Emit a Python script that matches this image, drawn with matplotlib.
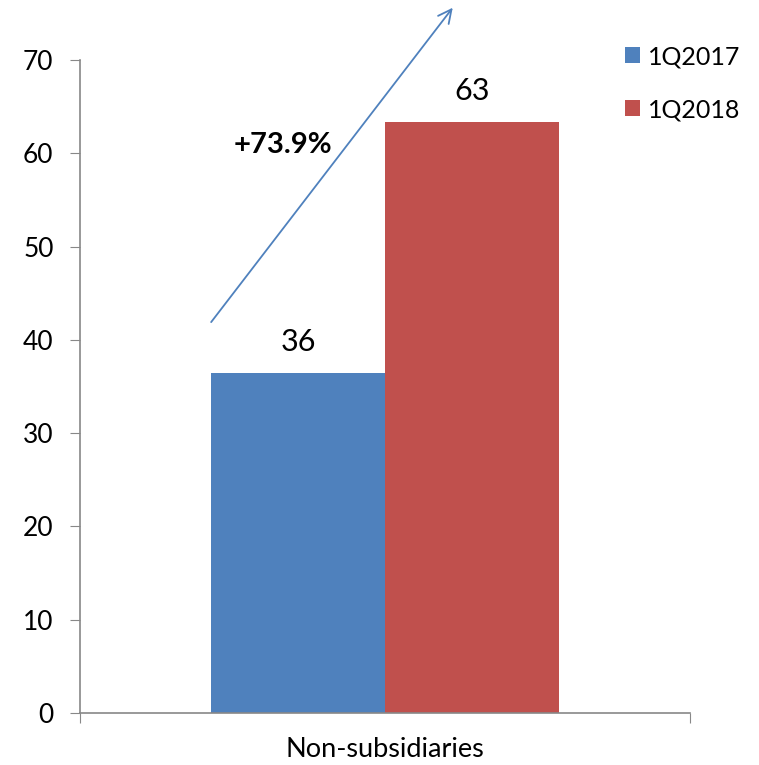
import matplotlib.pyplot as plt
import numpy as np

# Valori del grafico
category = 'Non-subsidiaries'
series = ['1Q2017', '1Q2018']
values = [36.4, 63.3]
colors = ['#4F81BD', '#C0504D']
growth_label = '+73.9%'
yticks = [0, 10, 20, 30, 40, 50, 60, 70]

plt.rcParams['font.family'] = ['Lato', 'DejaVu Sans']

fig = plt.figure(figsize=(7.59, 7.65), dpi=100)
ax = fig.add_axes([0.1054, 0.068, 0.8037, 0.8536])

bar_w = 0.285
offsets = [-bar_w / 2, bar_w / 2]
for off, val, col, name in zip(offsets, values, colors, series):
    ax.bar(off, val, width=bar_w, color=col, label=name)
    ax.text(off, val + 1.9, f'{val:.0f}', ha='center', va='bottom', fontsize=22)

ax.set_xlim(-0.5, 0.5)
ax.set_ylim(0, 70)
ax.set_yticks(yticks)
ax.tick_params(axis='y', labelsize=19, length=7, color='#888888', pad=12)

# asse categorie con tacche ai bordi
ax.set_xticks([-0.5, 0.5])
ax.set_xticklabels(['', ''])
ax.tick_params(axis='x', length=7, color='#888888')
ax.text(0, -2.6, category, ha='center', va='top', fontsize=19.5)

for s in ['top', 'right']:
    ax.spines[s].set_visible(False)
for s in ['left', 'bottom']:
    ax.spines[s].set_color('#888888')
    ax.spines[s].set_linewidth(1.2)

# freccia di crescita
ax.annotate('', xy=(0.111, 75.6), xytext=(-0.285, 41.9),
            arrowprops=dict(arrowstyle='->', color='#4F81BD', lw=1.3,
                            mutation_scale=24, shrinkA=0, shrinkB=0),
            annotation_clip=False)
ax.text(-0.167, 60.9, growth_label, ha='center', va='center',
        fontsize=21, fontweight='bold')

ax.legend(loc='upper left', bbox_to_anchor=(0.823, 0.941),
          bbox_transform=fig.transFigure, frameon=False, fontsize=18,
          handlelength=0.6, handleheight=0.6, handletextpad=0.35,
          labelspacing=1.2, borderaxespad=0, borderpad=0)

plt.savefig('out.png', dpi=100)
